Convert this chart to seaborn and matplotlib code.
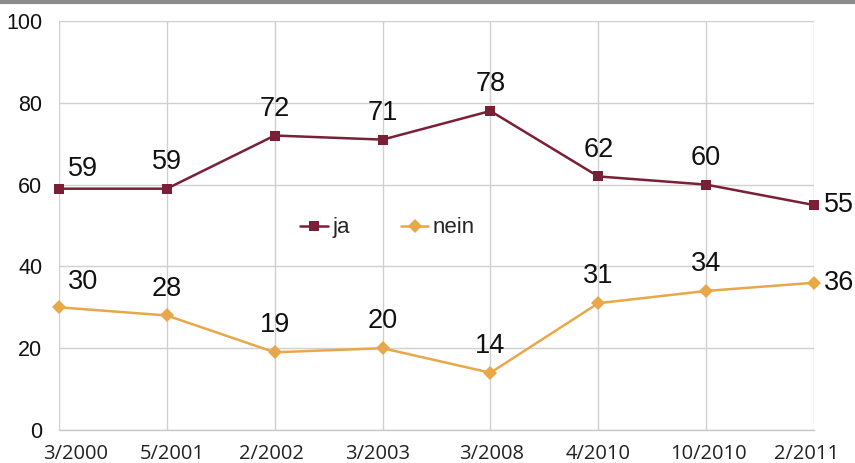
import matplotlib
matplotlib.use("Agg")
import matplotlib.pyplot as plt
import matplotlib.transforms as mtransforms
import seaborn as sns
import pandas as pd
from matplotlib.lines import Line2D

categories = ["3/2000", "5/2001", "2/2002", "3/2003", "3/2008", "4/2010", "10/2010", "2/2011"]
ja = [59, 59, 72, 71, 78, 62, 60, 55]
nein = [30, 28, 19, 20, 14, 31, 34, 36]
y_ticks = [0, 20, 40, 60, 80, 100]

ja_color = "#7A1F35"
nein_color = "#E8A84A"

sns.set_theme(style="white")
plt.rcParams["font.family"] = ["Liberation Sans", "DejaVu Sans"]

df = pd.DataFrame({
    "pos": list(range(len(categories))) * 2,
    "value": ja + nein,
    "series": ["ja"] * len(ja) + ["nein"] * len(nein),
})

fig = plt.figure(figsize=(8.55, 4.63), dpi=100)
ax = fig.add_axes([59 / 855, 1 - 430 / 463, (814 - 59) / 855, (430 - 21) / 463])

sns.lineplot(data=df, x="pos", y="value", hue="series", style="series",
             palette={"ja": ja_color, "nein": nein_color},
             markers={"ja": "s", "nein": "D"}, dashes=False,
             markersize=7, linewidth=1.8, markeredgewidth=0, ax=ax,
             clip_on=False, zorder=3)

ax.set_xlim(0, len(categories) - 1)
ax.set_ylim(0, 100)
ax.set_xticks(range(len(categories)))
ax.set_xticklabels(categories, fontfamily="Open Sans", fontsize=14.5, color="#222222")
ax.set_yticks(y_ticks)
ax.set_yticklabels([str(t) for t in y_ticks], fontsize=15.5, color="#111111")
ax.tick_params(axis="x", length=0, pad=10)
ax.tick_params(axis="y", length=0, pad=12)
ax.set_xlabel("")
ax.set_ylabel("")
ax.grid(True, color="#D0D0D0", linewidth=1)
for s in ["top", "right", "left"]:
    ax.spines[s].set_visible(False)
ax.spines["bottom"].set_color("#C8C8C8")
ax.spines["bottom"].set_linewidth(1)

# shift category labels like the reference layout (pixels)
x_shifts = [17, 5, -3, -5, 1, 0, 2, -7]
for lab, dx in zip(ax.get_xticklabels(), x_shifts):
    lab.set_transform(lab.get_transform() + mtransforms.ScaledTranslation(dx / 100, 0, fig.dpi_scale_trans))

# data labels
for vals, first_dy in ((ja, 4.5), (nein, 9)):
    for i, v in enumerate(vals):
        if i == len(vals) - 1:
            ax.annotate(str(v), (i, v), xytext=(7, 0), textcoords="offset points",
                        ha="left", va="center", fontsize=19.5, color="#111111")
        elif i == 0:
            ax.annotate(str(v), (i, v), xytext=(17.5, first_dy), textcoords="offset points",
                        ha="center", va="bottom", fontsize=19.5, color="#111111")
        else:
            ax.annotate(str(v), (i, v), xytext=(0, 10), textcoords="offset points",
                        ha="center", va="bottom", fontsize=19.5, color="#111111")

leg = ax.legend(loc="center", bbox_to_anchor=(0.435, 0.494), ncol=2, frameon=False,
                fontsize=16, handlelength=1.25, columnspacing=2.3, handletextpad=0.2)
for h in leg.legend_handles:
    h.set_markersize(7)

fig.add_artist(Line2D([0, 1], [1 - 1.5 / 463, 1 - 1.5 / 463], color="#8C8C8C",
                      linewidth=3, transform=fig.transFigure))

fig.savefig("out.png", dpi=100)
